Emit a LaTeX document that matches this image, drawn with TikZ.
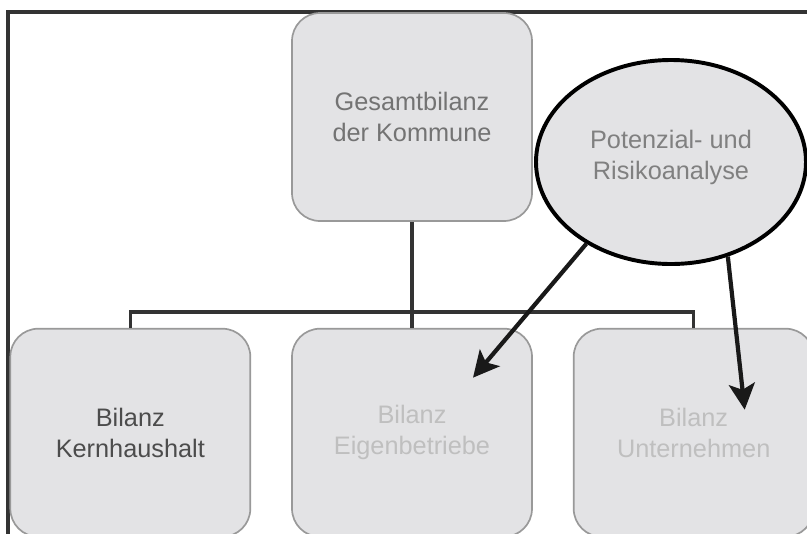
\documentclass[tikz,border=0pt]{standalone}
\usepackage{fontspec}
\setmainfont{Liberation Sans}
\usepackage{tikz}
\usetikzlibrary{shapes, arrows.meta, positioning}
\definecolor{boxfill}{HTML}{E3E3E5}

\begin{document}
\begin{tikzpicture}[
        node distance=1cm,
        box/.style={rectangle, draw=black!40, line width=1.2pt, fill=boxfill, rounded corners=0.7cm, align=center, font=\fontsize{18}{22}\selectfont, minimum height=5.2cm, minimum width=6cm},
        ovalbox/.style={ellipse, draw=black, line width=2.8pt, fill=boxfill, align=center, font=\fontsize{18}{22}\selectfont, minimum width=6.75cm, minimum height=5.1cm},
        line/.style={line width=2.4pt, color=black!80},
        arrow/.style={-{Stealth[length=6.5mm, width=6.5mm, inset=1.5mm]}, line width=3pt, color=black!90}
    ]
        \useasboundingbox (0,0) rectangle (20.175,-13.325);
        \clip (0,0) rectangle (20.175,-13.325);

        % Frame
        \draw[line width=3pt, color=black!80] (20.4,-0.3) -- (0.2,-0.3) -- (0.2,-13.6);

        \node[box, text=black!55] (gesamt) at (10.3,-2.925) {Gesamtbilanz \\ der Kommune};
        \node[box, text=black!25, below=2.65cm of gesamt] (eigen) {Bilanz \\ Eigenbetriebe};
        \node[box, text=black!70, left=of eigen] (kern) {Bilanz \\ Kernhaushalt};
        \node[box, text=black!25, right=of eigen] (unter) {Bilanz \\ Unternehmen};

        \node[ovalbox, text=black!50] (risiko) at (16.775,-4.05) {Potenzial- und \\ Risikoanalyse \\[-0.42cm]};

        % Tree lines
        \coordinate[below=2.25cm of gesamt] (bus);
        \draw[line] (gesamt) -- (eigen);
        \draw[line] (kern.north) |- (bus) -| (unter.north);

        % Arrows
        \coordinate (tipEigen) at ([shift={(1.525,1.375)}]eigen.center);
        \coordinate (tipUnter) at ([shift={(1.275,0.575)}]unter.center);
        \draw[arrow] (risiko.224) -- (tipEigen);
        \draw[arrow] (risiko.301) -- (tipUnter);

    \end{tikzpicture}
\end{document}
